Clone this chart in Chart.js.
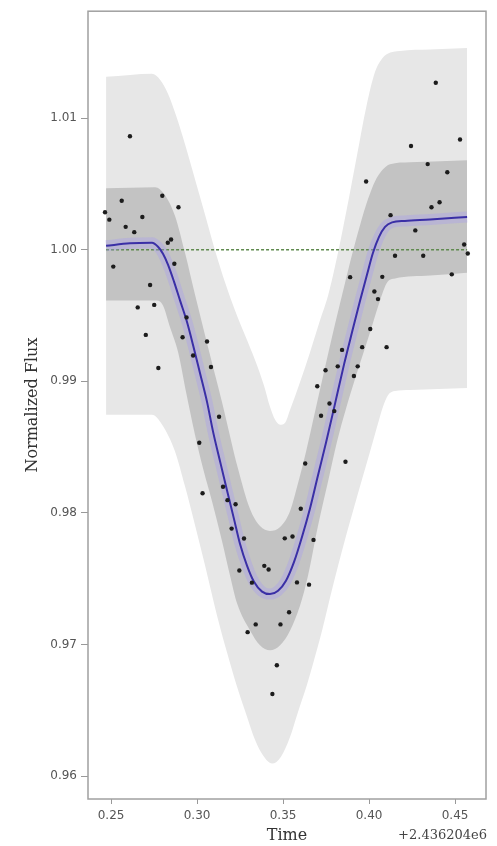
<!DOCTYPE html>
<html>
<head>
  <meta charset="utf-8">
  <title>Normalized Flux vs Time</title>
  <script src="https://cdn.jsdelivr.net/npm/chart.js"></script>
  <style>
    body {
      margin: 0;
      background-color: #fff;
    }
    .chart-box {
      width: 497px;
      height: 846px;
    }
  </style>
</head>
<body>
  <div class="chart-box">
    <canvas id="fluxChart"></canvas>
  </div>

  <script>
    // observed points (time relative to +2.436204e6)
    const obsTime = [0.2465, 0.2490, 0.2513, 0.2562, 0.2585, 0.2610, 0.2635, 0.2655, 0.2682, 0.2702,
      0.2727, 0.2751, 0.2775, 0.2798, 0.2830, 0.2849, 0.2868, 0.2892, 0.2916, 0.2939,
      0.2977, 0.3013, 0.3032, 0.3058, 0.3081, 0.3128, 0.3151, 0.3177, 0.3201, 0.3224,
      0.3246, 0.3273, 0.3294, 0.3319, 0.3341, 0.3391, 0.3416, 0.3438, 0.3464, 0.3485,
      0.3510, 0.3535, 0.3555, 0.3581, 0.3603, 0.3629, 0.3651, 0.3677, 0.3699, 0.3721,
      0.3747, 0.3770, 0.3798, 0.3818, 0.3843, 0.3863, 0.3890, 0.3912, 0.3934, 0.3960,
      0.3983, 0.4007, 0.4031, 0.4052, 0.4077, 0.4102, 0.4125, 0.4151, 0.4244, 0.4269,
      0.4315, 0.4341, 0.4363, 0.4388, 0.4410, 0.4455, 0.4481, 0.4529, 0.4553, 0.4574];
    const obsFlux = [1.00285, 1.00229, 0.99872, 1.00372, 1.00174, 1.00863, 1.00134, 0.99562, 1.00249, 0.99353,
      0.99732, 0.99581, 0.99101, 1.00410, 1.00053, 1.00078, 0.99894, 1.00323, 0.99335, 0.99486,
      0.99196, 0.98533, 0.98150, 0.99303, 0.99109, 0.98731, 0.98199, 0.98097, 0.97881, 0.98066,
      0.97563, 0.97806, 0.97094, 0.97470, 0.97153, 0.97598, 0.97570, 0.96624, 0.96843, 0.97153,
      0.97807, 0.97245, 0.97821, 0.97472, 0.98032, 0.98376, 0.97455, 0.97795, 0.98963, 0.98739,
      0.99084, 0.98832, 0.98774, 0.99114, 0.99239, 0.98389, 0.99792, 0.99041, 0.99114, 0.99260,
      1.00519, 0.99398, 0.99683, 0.99625, 0.99794, 0.99260, 1.00263, 0.99955, 1.00789, 1.00147,
      0.99955, 1.00651, 1.00323, 1.01269, 1.00361, 1.00589, 0.99813, 1.00838, 1.00040, 0.99972];

    // model mean curve
    const modelTime = [0.2471, 0.2610, 0.2738, 0.2773, 0.2802, 0.2831, 0.2866, 0.2901, 0.2942, 0.2977,
      0.3017, 0.3058, 0.3093, 0.3134, 0.3174, 0.3215, 0.3250, 0.3291, 0.3331, 0.3378,
      0.3424, 0.3471, 0.3517, 0.3564, 0.3610, 0.3657, 0.3703, 0.3750, 0.3802, 0.3855,
      0.3901, 0.3948, 0.3988, 0.4023, 0.4058, 0.4093, 0.4134, 0.4209, 0.4355, 0.4570];
    const modelFlux = [1.00030, 1.00049, 1.00053, 1.00023, 0.99970, 0.99887, 0.99758, 0.99615, 0.99449, 0.99275,
      0.99063, 0.98844, 0.98618, 0.98391, 0.98172, 0.97953, 0.97764, 0.97598, 0.97477, 0.97402,
      0.97383, 0.97409, 0.97485, 0.97628, 0.97817, 0.98036, 0.98285, 0.98535, 0.98829, 0.99131,
      0.99373, 0.99615, 0.99811, 0.99977, 1.00098, 1.00174, 1.00208, 1.00219, 1.00230, 1.00249];

    // outer (light) band
    const outerUpTime = [0.2471, 0.2611, 0.2738, 0.2785, 0.2831, 0.2878, 0.2930, 0.2988, 0.3047, 0.3105,
      0.3163, 0.3221, 0.3279, 0.3337, 0.3390, 0.3424, 0.3454, 0.3483, 0.3512, 0.3541,
      0.3599, 0.3657, 0.3715, 0.3762, 0.3802, 0.3843, 0.3884, 0.3930, 0.3983, 0.4035,
      0.4070, 0.4105, 0.4180, 0.4355, 0.4570];
    const outerUpFlux = [1.01314, 1.01329, 1.01337, 1.01292, 1.01186, 1.01020, 1.00801, 1.00536, 1.00264, 0.99992,
      0.99751, 0.99539, 0.99350, 0.99162, 0.98965, 0.98807, 0.98708, 0.98671, 0.98686, 0.98784,
      0.98995, 0.99222, 0.99464, 0.99653, 0.99872, 1.00128, 1.00400, 1.00718, 1.01080, 1.01352,
      1.01443, 1.01488, 1.01511, 1.01522, 1.01533];
    const outerLoTime = [0.2471, 0.2738, 0.2797, 0.2872, 0.2930, 0.2988, 0.3047, 0.3116, 0.3174, 0.3233,
      0.3291, 0.3337, 0.3384, 0.3436, 0.3488, 0.3541, 0.3587, 0.3640, 0.3680, 0.3727,
      0.3773, 0.3820, 0.3866, 0.3913, 0.3959, 0.4006, 0.4047, 0.4081, 0.4111, 0.4151, 0.4238, 0.4570];
    const outerLoFlux = [0.98746, 0.98746, 0.98671, 0.98467, 0.98202, 0.97908, 0.97598, 0.97221, 0.96941, 0.96677,
      0.96450, 0.96276, 0.96156, 0.96095, 0.96148, 0.96299, 0.96488, 0.96699, 0.96881, 0.97107,
      0.97356, 0.97598, 0.97825, 0.98044, 0.98255, 0.98467, 0.98656, 0.98807, 0.98897, 0.98927, 0.98935, 0.98950];

    // inner (dark) band
    const innerUpTime = [0.2471, 0.2611, 0.2756, 0.2814, 0.2872, 0.2930, 0.2988, 0.3064, 0.3145, 0.3238,
      0.3308, 0.3366, 0.3424, 0.3483, 0.3541, 0.3587, 0.3634, 0.3686, 0.3738, 0.3802,
      0.3861, 0.3901, 0.3948, 0.3994, 0.4035, 0.4076, 0.4122, 0.4238, 0.4413, 0.4570];
    const innerUpFlux = [1.00468, 1.00472, 1.00476, 1.00415, 1.00257, 0.99977, 0.99660, 0.99260, 0.98844, 0.98338,
      0.98029, 0.97900, 0.97863, 0.97893, 0.98014, 0.98225, 0.98467, 0.98769, 0.99071, 0.99434,
      0.99751, 0.99962, 1.00189, 1.00385, 1.00521, 1.00604, 1.00650, 1.00665, 1.00672, 1.00680];
    const innerLoTime = [0.2471, 0.2767, 0.2802, 0.2843, 0.2890, 0.2936, 0.2988, 0.3035, 0.3087, 0.3145,
      0.3192, 0.3233, 0.3308, 0.3366, 0.3424, 0.3483, 0.3541, 0.3599, 0.3645, 0.3703,
      0.3762, 0.3814, 0.3861, 0.3913, 0.3959, 0.4006, 0.4064, 0.4105, 0.4151, 0.4355, 0.4570];
    const innerLoFlux = [0.99615, 0.99615, 0.99577, 0.99411, 0.99222, 0.98920, 0.98595, 0.98338, 0.98089, 0.97787,
      0.97523, 0.97311, 0.97107, 0.96994, 0.96956, 0.96994, 0.97107, 0.97296, 0.97523, 0.97900,
      0.98240, 0.98542, 0.98769, 0.98995, 0.99184, 0.99373, 0.99615, 0.99751, 0.99781, 0.99804, 0.99826];

    // reference level
    const refTime = [0.2471, 0.4570];
    const refFlux = [1.0, 1.0];

    const xTicks = [0.25, 0.30, 0.35, 0.40, 0.45];
    const yTicks = [0.96, 0.97, 0.98, 0.99, 1.00, 1.01];
    const timeOffset = '+2.436204e6';

    function pairs(ts, fs) {
      return ts.map((t, i) => ({ x: t, y: fs[i] }));
    }

    const textPlugin = {
      id: 'frameAndTitles',
      afterDraw(chart) {
        const ctx = chart.ctx;
        const a = chart.chartArea;
        ctx.save();
        ctx.strokeStyle = '#a0a0a0';
        ctx.lineWidth = 1.5;
        ctx.strokeRect(a.left, a.top, a.right - a.left, a.bottom - a.top);

        ctx.fillStyle = '#333';
        ctx.font = '16px "DejaVu Serif"';
        ctx.textAlign = 'center';
        ctx.textBaseline = 'middle';
        ctx.fillText('Time', (a.left + a.right) / 2, 836);

        ctx.translate(33, (a.top + a.bottom) / 2);
        ctx.rotate(-Math.PI / 2);
        ctx.fillText('Normalized Flux', 0, 0);
        ctx.restore();

        ctx.save();
        ctx.fillStyle = '#444';
        ctx.font = '13px "DejaVu Serif"';
        ctx.textAlign = 'right';
        ctx.textBaseline = 'middle';
        ctx.fillText(timeOffset, a.right + 1, 836);
        ctx.restore();
      }
    };

    const ctx = document.getElementById('fluxChart').getContext('2d');
    const chart = new Chart(ctx, {
      type: 'scatter',
      data: {
        datasets: [
          {
            label: 'data',
            data: pairs(obsTime, obsFlux),
            backgroundColor: '#1c1c1c',
            borderColor: '#1c1c1c',
            pointRadius: 2.2,
            borderWidth: 0,
            order: 0
          },
          {
            label: 'model',
            data: pairs(modelTime, modelFlux),
            showLine: true,
            borderColor: '#3a2fa6',
            borderWidth: 2,
            pointRadius: 0,
            cubicInterpolationMode: 'monotone',
            order: 1
          },
          {
            label: 'model spread',
            data: pairs(modelTime, modelFlux),
            showLine: true,
            borderColor: 'rgba(165, 155, 240, 0.35)',
            borderWidth: 11,
            pointRadius: 0,
            cubicInterpolationMode: 'monotone',
            order: 2
          },
          {
            label: 'reference',
            data: pairs(refTime, refFlux),
            showLine: true,
            borderColor: '#5f8a4e',
            borderWidth: 1.5,
            borderDash: [3, 2],
            pointRadius: 0,
            order: 3
          },
          {
            label: 'inner upper',
            data: pairs(innerUpTime, innerUpFlux),
            showLine: true,
            borderWidth: 0,
            borderColor: 'rgba(0,0,0,0)',
            backgroundColor: '#c3c3c3',
            pointRadius: 0,
            cubicInterpolationMode: 'monotone',
            fill: '+1',
            order: 5
          },
          {
            label: 'inner lower',
            data: pairs(innerLoTime, innerLoFlux),
            showLine: true,
            borderWidth: 0,
            borderColor: 'rgba(0,0,0,0)',
            pointRadius: 0,
            cubicInterpolationMode: 'monotone',
            order: 6
          },
          {
            label: 'outer upper',
            data: pairs(outerUpTime, outerUpFlux),
            showLine: true,
            borderWidth: 0,
            borderColor: 'rgba(0,0,0,0)',
            backgroundColor: '#e7e7e7',
            pointRadius: 0,
            cubicInterpolationMode: 'monotone',
            fill: '+1',
            order: 7
          },
          {
            label: 'outer lower',
            data: pairs(outerLoTime, outerLoFlux),
            showLine: true,
            borderWidth: 0,
            borderColor: 'rgba(0,0,0,0)',
            pointRadius: 0,
            cubicInterpolationMode: 'monotone',
            order: 8
          }
        ]
      },
      options: {
        responsive: true,
        maintainAspectRatio: false,
        animation: false,
        layout: {
          padding: { left: 0, right: 11, top: 7, bottom: 0 }
        },
        plugins: {
          legend: { display: false },
          tooltip: { enabled: false }
        },
        scales: {
          x: {
            type: 'linear',
            min: 0.2366,
            max: 0.468,
            afterBuildTicks: s => { s.ticks = xTicks.map(v => ({ value: v })); },
            afterFit: s => { s.height = 47; },
            grid: { drawOnChartArea: false, tickLength: 5, tickColor: '#999' },
            border: { display: false },
            ticks: {
              color: '#555',
              font: { family: 'DejaVu Sans', size: 12 },
              padding: 5,
              maxRotation: 0,
              callback: v => Number(v).toFixed(2)
            }
          },
          y: {
            type: 'linear',
            min: 0.95826,
            max: 1.01813,
            afterBuildTicks: s => { s.ticks = yTicks.map(v => ({ value: v })); },
            afterFit: s => { s.width = 88; },
            grid: { drawOnChartArea: false, tickLength: 7, tickColor: '#999' },
            border: { display: false },
            ticks: {
              color: '#555',
              font: { family: 'DejaVu Sans', size: 12 },
              padding: 4,
              callback: v => Number(v).toFixed(2)
            }
          }
        }
      },
      plugins: [textPlugin]
    });
  </script>
</body>
</html>
